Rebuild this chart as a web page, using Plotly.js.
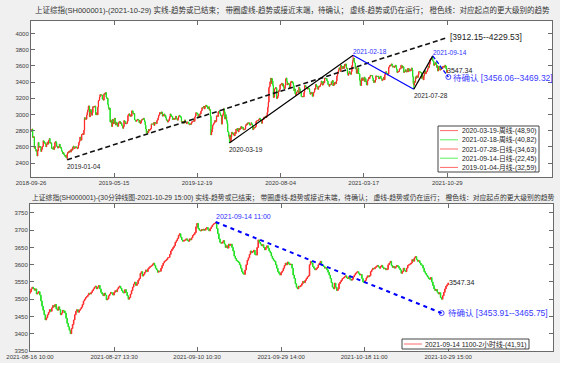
<!DOCTYPE html>
<html><head><meta charset="utf-8">
<script src="https://cdn.plot.ly/plotly-3.0.1.min.js"></script>
<style>html,body{margin:0;padding:0;background:#fff}#chart{width:570px;height:378px}</style>
</head><body><div id="chart"></div>
<script>
// ---------- DATA: daily closes, SSE Composite, 2018-09-26 .. 2021-10-29 (one row per month) ----------
const dailyFirstOpen = 2800;
const dailyClose = [
2806,2791,2821,
2716,2721,2725,2583,2606,2568,2546,2561,2486,2550,2654,2594,2603,2604,2598,2542,2568,2603,
2606,2676,2665,2659,2641,2635,2599,2630,2654,2632,2668,2679,2703,2645,2651,2646,2579,2575,2574,2601,2567,2588,
2654,2666,2649,2605,2606,2584,2594,2602,2634,2593,2597,2576,2550,2536,2516,2527,2504,2498,2483,2494,
2465,2464,2514,2533,2526,2544,2535,2553,2535,2570,2570,2559,2596,2610,2579,2581,2591,2601,2597,2594,2575,2584,
2618,2653,2671,2721,2719,2682,2754,2755,2761,2751,2804,2961,2941,2954,2941,
2994,3027,3055,3102,3106,2969,3026,3060,3026,2990,3022,3096,3090,3091,3101,3104,2998,2997,3022,2995,3091,
3170,3176,3216,3246,3244,3239,3241,3189,3189,3177,3254,3263,3251,3271,3215,3198,3201,3124,3086,3063,3078,
2907,2926,2894,2850,2940,2903,2884,2939,2955,2882,2870,2905,2892,2853,2853,2892,2909,2915,2887,2899,
2890,2862,2861,2828,2852,2925,2909,2910,2882,2887,2890,2917,2987,3001,3008,2982,2976,2996,2979,
3045,3044,3015,3005,3011,2933,2928,2915,2917,2930,2942,2937,2931,2901,2924,2887,2899,2923,2937,2944,2941,2953,2932,
2909,2868,2821,2778,2768,2795,2775,2815,2797,2808,2816,2824,2883,2880,2880,2883,2898,2863,2902,2893,2890,2886,
2924,2931,2957,2985,2999,3024,3021,3008,3031,3030,2979,2985,2999,3006,2978,2985,2955,2929,2932,2905,
2913,2924,2947,2973,3007,2991,2978,2977,2938,2940,2955,2941,2940,2955,2980,2954,2939,2929,
2958,2975,2991,2978,2978,2964,2909,2914,2905,2909,2891,2909,2933,2911,2903,2885,2906,2907,2903,2889,2871,
2876,2884,2878,2899,2912,2915,2917,2924,2915,2968,2984,3022,3017,3017,3005,2962,2982,2981,3007,3005,3040,3050,
3085,3084,3083,3104,3067,3095,3092,3116,3107,3091,3074,3075,3095,3053,3060,2977,
2746,2784,2818,2866,2876,2890,2901,2926,2906,2917,2984,2984,2975,3030,3039,3031,3013,2988,2991,2880,
2970,2992,3011,3071,3034,2943,2997,2968,2923,2887,2790,2779,2728,2702,2746,2660,2722,2781,2765,2772,2747,2750,
2735,2780,2764,2820,2815,2826,2797,2783,2827,2811,2819,2839,2852,2827,2844,2838,2809,2816,2810,2822,2860,
2878,2871,2895,2894,2891,2898,2870,2868,2875,2898,2883,2867,2813,2817,2846,2837,2836,2852,
2915,2921,2923,2919,2930,2937,2956,2943,2921,2919,2890,2931,2935,2939,2967,2965,2970,2979,2961,2985,
3025,3090,3152,3332,3345,3403,3450,3383,3443,3415,3361,3210,3214,3314,3320,3333,3325,3196,3205,3228,3294,3286,3310,
3367,3371,3377,3386,3354,3379,3340,3320,3320,3360,3438,3451,3409,3364,3381,3386,3373,3330,3350,3404,3396,
3411,3404,3385,3355,3292,3316,3255,3235,3260,3278,3295,3283,3270,3338,3316,3274,3279,3223,3219,3217,3224,3218,
3272,3359,3359,3340,3332,3336,3313,3328,3325,3312,3278,3251,3254,3270,3273,3225,
3225,3271,3278,3320,3312,3373,3360,3342,3338,3310,3346,3339,3347,3363,3378,3414,3402,3362,3370,3408,3392,
3451,3449,3442,3445,3416,3411,3371,3373,3347,3369,3367,3366,3404,3395,3421,3356,3382,3363,3397,3397,3379,3414,3473,
3503,3528,3551,3576,3570,3531,3608,3598,3565,3566,3596,3567,3584,3621,3606,3625,3570,3574,3505,3483,
3505,3533,3517,3501,3496,3532,3603,3655,3675,3696,3642,3636,3564,3585,3509,
3551,3508,3576,3503,3501,3421,3360,3357,3436,3453,3419,3446,3445,3463,3405,3443,3411,3367,3363,3418,3435,3457,3441,
3466,3484,3482,3479,3482,3451,3413,3396,3417,3398,3427,3477,3473,3472,3466,3474,3441,3442,3457,3474,3447,
3441,3418,3428,3441,3462,3429,3491,3518,3529,3510,3507,3487,3498,3582,3593,3608,3600,3615,
3625,3597,3585,3592,3599,3581,3591,3611,3590,3557,3518,3526,3525,3530,3557,3566,3566,3607,3607,3574,3591,
3588,3519,3535,3530,3553,3526,3524,3548,3567,3528,3565,3539,3539,3537,3562,3575,3550,3467,3382,3362,3411,3397,
3465,3447,3477,3466,3458,3494,3529,3532,3524,3517,3518,3446,3485,3466,3427,3477,3515,3540,3501,3522,3528,3544,
3567,3597,3581,3621,3676,3675,3693,3703,3715,3662,3656,3607,3613,3628,3643,3613,3582,3602,3536,3568,
3592,3591,3547,3562,3558,3572,3568,3594,3587,3594,3583,3610,3598,3563,3519,3547.34
];
const dailyTickBars = [0,149,298,448,597,747];
const dailyTickText = ['2018-09-26','2019-05-15','2019-12-19','2020-08-04','2021-03-17','2021-10-29'];

// pivots (bar number, extreme price, label)
const pivotBar   = [65, 356, 578, 687, 721];
const pivotPrice = [2440.91, 2646.80, 3731.69, 3312.72, 3723.85];
const pivotLabel = ['2019-01-04','2020-03-19','2021-02-18','2021-07-28','2021-09-14'];
const pivotIsHigh= [false,false,true,false,true];
// running dashed trend: from 2019-01-04 low to projected end
const runEndBar = 747, runEndPrice = 3950;
const runLabel = '[3912.15--4229.53]';
const pendEndBar = 749, pendEndPrice = 3462.7;
const pendLabel = '待确认 [3456.06--3469.32]';
const lastCloseLabel = '3547.34';

const legendTopText = ['2020-03-19-周线-(48,90)','2021-02-18-周线-(40,82)','2021-07-28-日线-(34,63)','2021-09-14-日线-(22,45)','2019-01-04-月线-(32,59)'];
const legendTopColor= ['red','green','red','green','red'];

// ---------- DATA: 30-minute closes 2021-08-16 10:00 .. 2021-10-29 15:00 (one row per day) ----------
const m30FirstOpen = 3517;
const m30Close = [
3521,3530,3535,3531,3526,3530,3515,3518,
3522,3512,3495,3480,3468,3455,3440,3446,
3455,3462,3470,3465,3475,3482,3478,3485,
3472,3468,3478,3470,3455,3460,3468,3466,
3460,3445,3430,3420,3410,3400,3415,3427,
3440,3455,3465,3470,3462,3468,3472,3477,
3485,3495,3500,3505,3508,3512,3518,3515,
3520,3525,3530,3535,3538,3530,3535,3540,
3530,3520,3515,3510,3518,3512,3498,3501,
3510,3515,3520,3518,3512,3520,3525,3522,
3530,3535,3538,3532,3525,3520,3518,3528,
3520,3510,3500,3505,3515,3525,3535,3544,
3550,3540,3545,3555,3560,3575,3580,3567,
3572,3578,3585,3580,3588,3592,3595,3597,
3600,3605,3598,3590,3585,3578,3582,3581,
3590,3598,3605,3610,3612,3615,3620,3621,
3630,3640,3645,3650,3655,3665,3670,3676,
3685,3690,3680,3672,3668,3670,3672,3675,
3670,3668,3675,3672,3678,3685,3688,3693,
3710,3720,3705,3700,3698,3702,3700,3703,
3700,3705,3708,3702,3698,3705,3710,3715,
3718,3720,3722,3705,3690,3675,3665,3662,
3665,3670,3660,3650,3655,3648,3660,3656,
3660,3650,3640,3625,3618,3612,3610,3607,
3600,3590,3580,3575,3572,3585,3600,3613,
3620,3630,3640,3635,3638,3642,3630,3628,
3650,3672,3665,3660,3655,3658,3650,3643,
3650,3655,3648,3640,3635,3625,3618,3613,
3610,3600,3590,3580,3575,3570,3578,3582,
3590,3598,3605,3600,3608,3603,3600,3602,
3590,3570,3560,3545,3535,3530,3538,3536,
3540,3545,3552,3548,3555,3560,3565,3568,
3600,3610,3605,3595,3590,3585,3588,3592,
3600,3605,3610,3600,3598,3595,3590,3591,
3585,3578,3570,3560,3548,3535,3530,3547,
3535,3525,3530,3545,3550,3555,3560,3562,
3565,3568,3562,3560,3565,3558,3555,3558,
3565,3570,3575,3578,3580,3575,3570,3572,
3560,3550,3548,3555,3562,3568,3565,3568,
3580,3585,3590,3588,3592,3595,3598,3594,
3590,3595,3598,3592,3588,3590,3585,3587,
3600,3605,3610,3598,3592,3595,3590,3594,
3598,3595,3590,3585,3575,3580,3590,3583,
3580,3590,3598,3600,3602,3605,3615,3610,
3620,3624,3615,3610,3612,3605,3600,3598,
3590,3580,3575,3570,3565,3560,3558,3563,
3550,3540,3530,3525,3528,3520,3515,3519,
3505,3500,3510,3520,3530,3538,3542,3547.34
];
const m30TickBars = [0,77,153,230,306,383];
const m30TickText = ['2021-08-16 10:00','2021-08-27 13:30','2021-09-10 10:30','2021-09-29 14:00','2021-10-18 11:00','2021-10-29 15:00'];
const m30PivotBar = 170, m30PivotPrice = 3723.85, m30PivotLabel = '2021-09-14 11:00';
const m30PendBar = 377, m30PendPrice = 3459.83;
const m30PendLabel = '待确认 [3453.91--3465.75]';
const m30LegendText = '2021-09-14 1100-2小时线-(41,91)';

// ---------- BUILD ----------
const W=570,H=378;
const PX = x => x/W, PY = y => 1 - y/H;
const FONT = 'Liberation Sans, Arial, Noto Sans CJK SC, sans-serif';
const UP = '#ff2a2a', DN = '#1fe01f';
const legCol = {red:'#ff6a6a', green:'#5cf05c'};

function candles(closes, firstOpen, xa, ya, extraBars, extraPrices){
  const x=[],o=[],h=[],l=[],c=[];
  closes.forEach((v,i)=>{
    const op = i===0 ? firstOpen : closes[i-1];
    let hi=Math.max(op,v), lo=Math.min(op,v);
    const k = extraBars.indexOf(i);
    if(k>=0){ hi=Math.max(hi,extraPrices[k]); lo=Math.min(lo,extraPrices[k]); }
    x.push(i); o.push(op); h.push(hi); l.push(lo); c.push(v);
  });
  return {type:'candlestick', x, open:o, high:h, low:l, close:c, xaxis:xa, yaxis:ya,
    increasing:{line:{color:UP,width:1},fillcolor:UP},
    decreasing:{line:{color:DN,width:1},fillcolor:DN},
    whiskerwidth:0, showlegend:false, hoverinfo:'skip'};
}

const traces = [];
traces.push(candles(dailyClose, dailyFirstOpen, 'x','y', pivotBar, pivotPrice));
traces.push({type:'scatter',mode:'lines',x:[pivotBar[0],runEndBar],y:[pivotPrice[0],runEndPrice],
  line:{color:'#111',width:1.6,dash:'5px,3px'},xaxis:'x',yaxis:'y',showlegend:false,hoverinfo:'skip'});
traces.push({type:'scatter',mode:'lines',x:[pivotBar[1],pivotBar[2]],y:[pivotPrice[1],pivotPrice[2]],
  line:{color:'#000',width:1.2},xaxis:'x',yaxis:'y',showlegend:false,hoverinfo:'skip'});
traces.push({type:'scatter',mode:'lines',x:[pivotBar[2],pivotBar[3]],y:[pivotPrice[2],pivotPrice[3]],
  line:{color:'#0000ff',width:1.2},xaxis:'x',yaxis:'y',showlegend:false,hoverinfo:'skip'});
traces.push({type:'scatter',mode:'lines',x:[pivotBar[3],pivotBar[4]],y:[pivotPrice[3],pivotPrice[4]],
  line:{color:'#000',width:1.2},xaxis:'x',yaxis:'y',showlegend:false,hoverinfo:'skip'});
traces.push({type:'scatter',mode:'lines+markers',x:[pivotBar[4],pendEndBar],y:[pivotPrice[4],pendEndPrice],
  line:{color:'#0000ff',width:1.3,dash:'4px,2px'},marker:{symbol:['circle','circle-open'],size:[0,5],color:'#0000ff',line:{width:1,color:'#0000ff'}},
  xaxis:'x',yaxis:'y',showlegend:false,hoverinfo:'skip',cliponaxis:false});

traces.push(candles(m30Close, m30FirstOpen, 'x2','y2', [m30PivotBar], [m30PivotPrice]));
traces.push({type:'scatter',mode:'lines+markers',x:[m30PivotBar,m30PendBar],y:[m30PivotPrice,m30PendPrice],
  line:{color:'#0000ff',width:2,dash:'4px,4px'},marker:{symbol:['circle','circle-open'],size:[0,5],color:'#0000ff',line:{width:1,color:'#0000ff'}},
  xaxis:'x2',yaxis:'y2',showlegend:false,hoverinfo:'skip',cliponaxis:false});

const axBase = {showline:true,linecolor:'#6a6a6a',linewidth:1,mirror:'ticks',ticks:'inside',ticklen:4,
  tickcolor:'#6a6a6a',showgrid:false,zeroline:false,fixedrange:true,
  tickfont:{family:FONT,size:6,color:'#3a3a3a'}};

const layout = {
  width:W,height:H,margin:{l:0,r:0,t:0,b:0},
  paper_bgcolor:'#f0f0f0',plot_bgcolor:'#ffffff',showlegend:false,
  xaxis:Object.assign({},axBase,{domain:[PX(31),PX(552)],anchor:'y',range:[0,935],
    tickmode:'array',tickvals:dailyTickBars,ticktext:dailyTickText,rangeslider:{visible:false}}),
  yaxis:Object.assign({},axBase,{domain:[PY(177),PY(21)],anchor:'x',range:[2227,4155],dtick:200,tick0:0}),
  xaxis2:Object.assign({},axBase,{domain:[PX(30),PX(553)],anchor:'y2',range:[0,479],
    tickmode:'array',tickvals:m30TickBars,ticktext:m30TickText,rangeslider:{visible:false}}),
  yaxis2:Object.assign({},axBase,{domain:[PY(351),PY(204)],anchor:'x2',range:[3350,3776],dtick:50,tick0:0}),
  shapes:[], annotations:[]
};
layout.shapes.push({type:'rect',xref:'paper',yref:'paper',x0:PX(560),x1:1,y0:0,y1:1,fillcolor:'#fff',line:{width:0},layer:'below'});
layout.shapes.push({type:'rect',xref:'paper',yref:'paper',x0:0,x1:1,y0:0,y1:PY(363),fillcolor:'#fff',line:{width:0},layer:'below'});

layout.annotations.push({xref:'paper',yref:'paper',x:PX(292.5),y:PY(10),xanchor:'center',yanchor:'middle',showarrow:false,
  text:'上证综指(SH000001)-(2021-10-29) 实线-趋势或已结束； 带圈虚线-趋势或接近末端，待确认； 虚线-趋势或仍在运行； 橙色线：对应起点的更大级别的趋势',
  font:{family:FONT,size:7.5,color:'#333'}});
layout.annotations.push({xref:'paper',yref:'paper',x:PX(292.5),y:PY(197),xanchor:'center',yanchor:'middle',showarrow:false,
  text:'上证综指(SH000001)-(30分钟线图-2021-10-29 15:00) 实线-趋势或已结束； 带圈虚线-趋势或接近末端，待确认； 虚线-趋势或仍在运行； 橙色线：对应起点的更大级别的趋势',
  font:{family:FONT,size:6.8,color:'#333'}});

pivotBar.forEach((b,i)=>{
  layout.annotations.push({xref:'x',yref:'y',x:b,y:pivotPrice[i],xanchor:'left',yanchor:pivotIsHigh[i]?'bottom':'top',
    xshift:-2,yshift:pivotIsHigh[i]?-2:-1,showarrow:false,text:pivotLabel[i],
    font:{family:FONT,size:6.5,color:pivotIsHigh[i]?'#2f2fff':'#222'}});
});
layout.annotations.push({xref:'x',yref:'y',x:runEndBar,y:runEndPrice,xanchor:'left',yanchor:'middle',xshift:1,yshift:1,showarrow:false,
  text:runLabel,font:{family:FONT,size:8.5,color:'#222'}});
layout.annotations.push({xref:'x',yref:'y',x:dailyTickBars[5],y:dailyClose[dailyClose.length-1],xanchor:'left',yanchor:'bottom',xshift:-1,yshift:-5,showarrow:false,
  borderpad:0,text:lastCloseLabel,font:{family:FONT,size:7,color:'#222'}});
layout.annotations.push({xref:'x',yref:'y',x:pendEndBar,y:pendEndPrice,xanchor:'left',yanchor:'top',xshift:4,yshift:5,showarrow:false,
  borderpad:0,text:pendLabel,font:{family:FONT,size:8.5,color:'#3a3aff'}});

layout.annotations.push({xref:'x2',yref:'y2',x:m30PivotBar,y:m30PivotPrice,xanchor:'left',yanchor:'bottom',xshift:-2,yshift:0,showarrow:false,
  text:m30PivotLabel,font:{family:FONT,size:7,color:'#2f2fff'}});
layout.annotations.push({xref:'x2',yref:'y2',x:m30TickBars[5],y:m30Close[m30Close.length-1],xanchor:'left',yanchor:'middle',xshift:-1,showarrow:false,
  text:lastCloseLabel,font:{family:FONT,size:7,color:'#222'}});
layout.annotations.push({xref:'x2',yref:'y2',x:m30PendBar,y:m30PendPrice,xanchor:'left',yanchor:'middle',xshift:4,showarrow:false,
  text:m30PendLabel,font:{family:FONT,size:8.5,color:'#3a3aff'}});

layout.shapes.push({type:'rect',xref:'paper',yref:'paper',x0:PX(438),x1:PX(539),y0:PY(172),y1:PY(126),fillcolor:'#fff',line:{color:'#444',width:1},layer:'above'});
legendTopText.forEach((t,i)=>{
  const yc = 130.6 + i*9.2;
  layout.shapes.push({type:'line',xref:'paper',yref:'paper',x0:PX(440),x1:PX(458),y0:PY(yc),y1:PY(yc),line:{color:legCol[legendTopColor[i]],width:1},layer:'above'});
  layout.annotations.push({xref:'paper',yref:'paper',x:PX(460),y:PY(yc),xanchor:'left',yanchor:'middle',showarrow:false,text:t,
    font:{family:FONT,size:6.8,color:'#222'}});
});
layout.shapes.push({type:'rect',xref:'paper',yref:'paper',x0:PX(402),x1:PX(529),y0:PY(349),y1:PY(339),fillcolor:'#fff',line:{color:'#444',width:1},layer:'above'});
layout.shapes.push({type:'line',xref:'paper',yref:'paper',x0:PX(404),x1:PX(422),y0:PY(344),y1:PY(344),line:{color:legCol.red,width:1},layer:'above'});
layout.annotations.push({xref:'paper',yref:'paper',x:PX(423),y:PY(344),xanchor:'left',yanchor:'middle',showarrow:false,text:m30LegendText,
  font:{family:FONT,size:6.8,color:'#222'}});

Plotly.newPlot('chart',traces,layout,{staticPlot:true,displayModeBar:false});
</script></body></html>
